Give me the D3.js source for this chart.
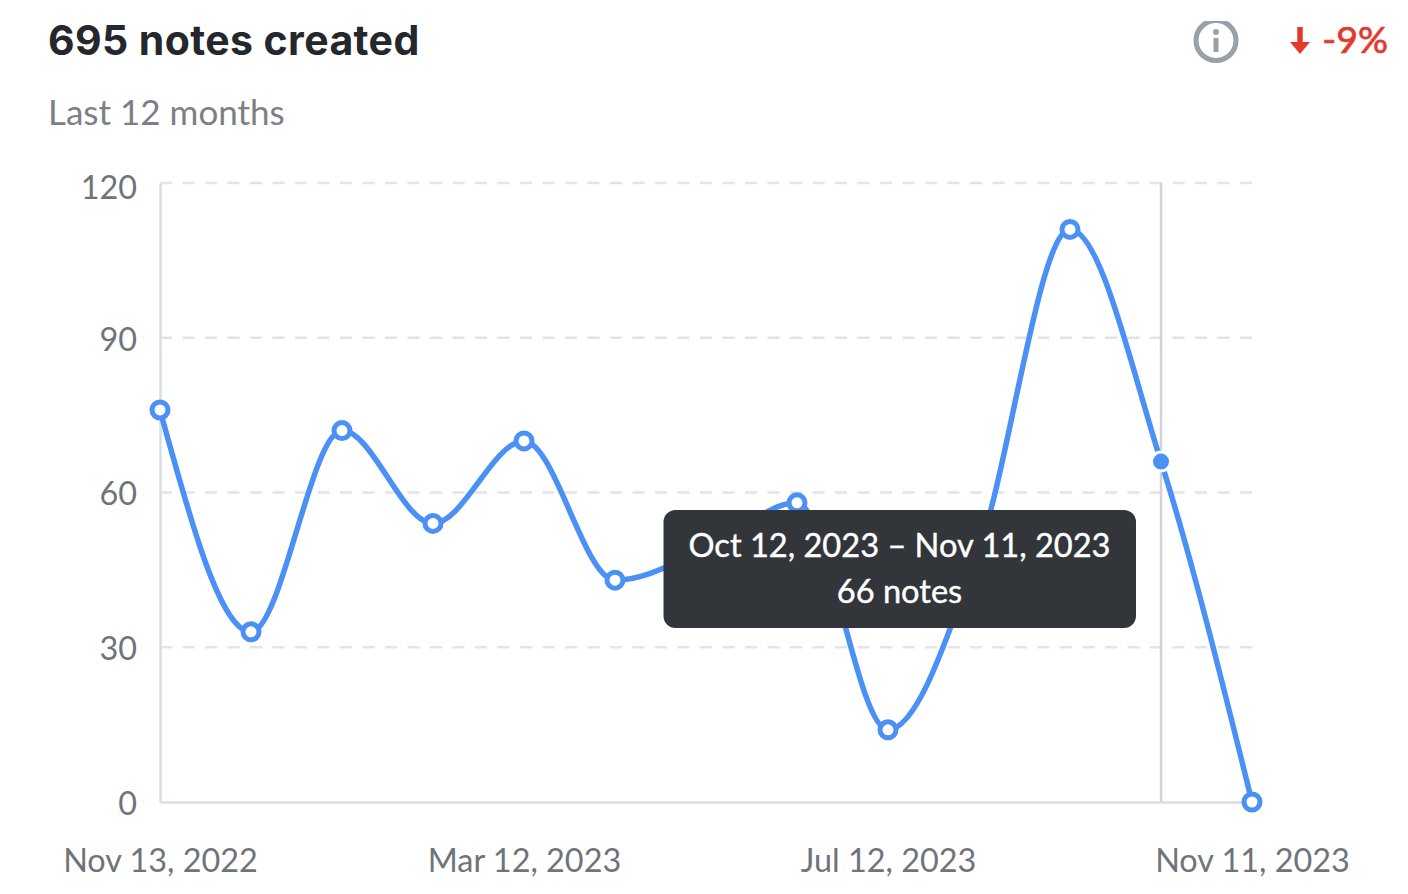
<!DOCTYPE html>
<html>
<head>
<meta charset="utf-8">
<title>Notes created</title>
<script src="https://cdn.jsdelivr.net/npm/d3@7"></script>
<style>
  html, body { margin: 0; padding: 0; background: #fff; }
  svg { display: block; font-family: Lato, "Open Sans", sans-serif; }
</style>
</head>
<body>
<div id="chart"></div>
<script>
// --- Data ---
const periods = ['Nov 13, 2022', 'Dec 13, 2022', 'Jan 12, 2023', 'Feb 11, 2023', 'Mar 12, 2023',
  'Apr 11, 2023', 'May 12, 2023', 'Jun 11, 2023', 'Jul 12, 2023', 'Aug 11, 2023',
  'Sep 11, 2023', 'Oct 12, 2023', 'Nov 11, 2023'];
// two values sit behind the tooltip; estimated so the series adds up to 695
const notes = [76, 33, 72, 54, 70, 43, 49, 58, 14, 49, 111, 66, 0];
const yTicks = [0, 30, 60, 90, 120];
const xTicks = ['Nov 13, 2022', 'Mar 12, 2023', 'Jul 12, 2023', 'Nov 11, 2023'];
const hoveredPeriod = 'Oct 12, 2023';
const tooltipLines = ['Oct 12, 2023 \u2013 Nov 11, 2023', '66 notes'];

const width = 1408;
const height = 894;
const blue = '#4a90f5';
const red = '#e5392c';

const x = d3.scalePoint().domain(periods).range([160, 1252]);
const y = d3.scaleLinear().domain([0, 120]).range([802, 183]);

const svg = d3.select('#chart').append('svg')
  .attr('width', width)
  .attr('height', height)
  .attr('viewBox', `0 0 ${width} ${height}`);

// --- Header ---
svg.append('text').attr('x', 48).attr('y', 55)
  .attr('font-family', 'Inter, Lato, sans-serif')
  .attr('font-size', 41).attr('font-weight', 700).attr('fill', '#24272b')
  .attr('letter-spacing', 0.4)
  .text('695 notes created');

svg.append('text').attr('x', 48).attr('y', 125)
  .attr('font-size', 35).attr('fill', '#7b8087')
  .text('Last 12 months');

// Info icon
const clip = svg.append('defs').append('clipPath').attr('id', 'icon-clip');
clip.append('rect').attr('x', 1180).attr('y', 21).attr('width', 72).attr('height', 60);
const info = svg.append('g').attr('clip-path', 'url(#icon-clip)');
info.append('circle').attr('cx', 1216).attr('cy', 40.5).attr('r', 20)
  .attr('fill', 'none').attr('stroke', '#98a1ab').attr('stroke-width', 5);
info.append('circle').attr('cx', 1216).attr('cy', 32).attr('r', 3).attr('fill', '#98a1ab');
info.append('rect').attr('x', 1213.5).attr('y', 38).attr('width', 5).attr('height', 14).attr('fill', '#98a1ab');

// Down arrow and change
svg.append('path')
  .attr('d', 'M1300 27V48')
  .attr('stroke', red).attr('stroke-width', 5.5);
svg.append('path')
  .attr('d', 'M1290 42H1310L1300 54Z')
  .attr('fill', red);
svg.append('text').attr('x', 1388).attr('y', 53).attr('text-anchor', 'end')
  .attr('font-size', 37.5).attr('fill', red)
  .attr('stroke', red).attr('stroke-width', 0.7)
  .text('-9%');

// --- Grid ---
svg.append('g').selectAll('line')
  .data(yTicks.filter(d => d > 0))
  .join('line')
  .attr('x1', x.range()[0]).attr('x2', x.range()[1])
  .attr('y1', d => y(d)).attr('y2', d => y(d))
  .attr('stroke', '#e2e4e7').attr('stroke-width', 2.5)
  .attr('stroke-dasharray', '12 10.5');

// --- Axes ---
const yAxis = svg.append('g')
  .attr('transform', `translate(${x.range()[0]},0)`)
  .call(d3.axisLeft(y).tickValues(yTicks).tickSize(0).tickPadding(23));
const xAxis = svg.append('g')
  .attr('transform', `translate(0,${y(0)})`)
  .call(d3.axisBottom(x).tickValues(xTicks).tickSize(0).tickPadding(52));

[yAxis, xAxis].forEach(axis => {
  axis.attr('font-family', null);
  axis.select('.domain').attr('stroke', '#d9dee6').attr('stroke-width', 2.5);
  axis.selectAll('text').attr('font-size', 32.4).attr('fill', '#6f747b');
});
xAxis.selectAll('text').attr('dy', '0.55em');
yAxis.selectAll('text').attr('dy', d => d === 120 ? '0.47em' : '0.38em');

// --- Hover crosshair ---
svg.append('line')
  .attr('x1', x(hoveredPeriod)).attr('x2', x(hoveredPeriod))
  .attr('y1', y(120)).attr('y2', y(0))
  .attr('stroke', '#cfd2d6').attr('stroke-width', 2.5);

// --- Line ---
const line = d3.line()
  .x((d, i) => x(periods[i]))
  .y(d => y(d))
  .curve(d3.curveMonotoneX);

svg.append('path')
  .datum(notes)
  .attr('d', line)
  .attr('fill', 'none')
  .attr('stroke', blue)
  .attr('stroke-width', 5.5);

// --- Points, the hovered one is solid ---
svg.append('g').selectAll('circle')
  .data(notes)
  .join('circle')
  .attr('cx', (d, i) => x(periods[i]))
  .attr('cy', d => y(d))
  .attr('r', (d, i) => periods[i] === hoveredPeriod ? 9.5 : 8)
  .attr('fill', (d, i) => periods[i] === hoveredPeriod ? blue : '#fff')
  .attr('stroke', (d, i) => periods[i] === hoveredPeriod ? '#fff' : blue)
  .attr('stroke-width', (d, i) => periods[i] === hoveredPeriod ? 3 : 5);

// --- Tooltip ---
const tip = svg.append('g');
tip.append('rect')
  .attr('x', 663.5).attr('y', 510).attr('width', 472.5).attr('height', 118).attr('rx', 12)
  .attr('fill', '#32363b');
tip.selectAll('text')
  .data(tooltipLines)
  .join('text')
  .attr('x', 899.5)
  .attr('y', (d, i) => 557 + i * 46)
  .attr('text-anchor', 'middle')
  .attr('font-size', 32.6)
  .attr('fill', '#fff')
  .attr('stroke', '#fff')
  .attr('stroke-width', 0.4)
  .text(d => d);
</script>
</body>
</html>
